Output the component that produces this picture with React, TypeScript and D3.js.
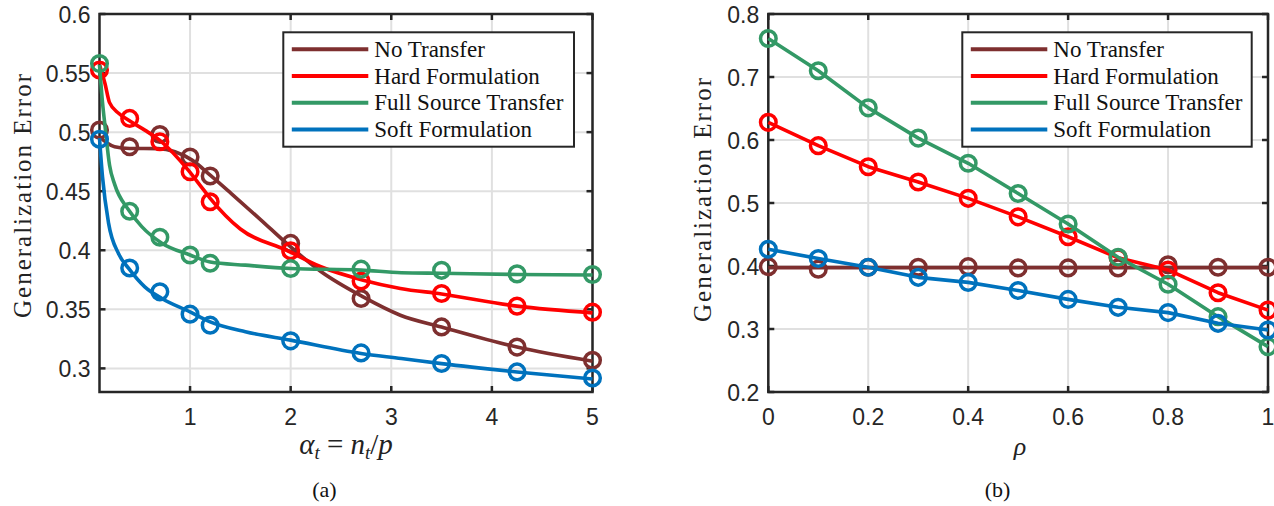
import React from "react";
import * as d3 from "d3";

// ---------- Panel (a) data ----------
const alphaMarkers = [0.1, 0.4, 0.7, 1.0, 1.2, 2.0, 2.7, 3.5, 4.25, 5.0];
const noTransferA = [0.5017, 0.4876, 0.498, 0.479, 0.4628, 0.4058, 0.3592, 0.3351, 0.318, 0.3069];
const hardA = [0.5526, 0.5116, 0.4918, 0.4664, 0.441, 0.3995, 0.374, 0.3634, 0.3527, 0.3476];
const fullA = [0.558, 0.433, 0.411, 0.396, 0.389, 0.3846, 0.384, 0.383, 0.38, 0.3795];
const softA = [0.4939, 0.385, 0.3648, 0.3459, 0.3366, 0.3233, 0.3131, 0.3041, 0.297, 0.2919];

const noTransferCurveX = [0.1, 0.25, 0.4, 0.68, 0.85, 1.02, 1.2, 1.41, 1.7, 1.96, 2.3, 2.72, 3.09, 3.5, 4.25, 5];
const noTransferCurveY = [0.496, 0.4876, 0.4862, 0.486, 0.4834, 0.4763, 0.4636, 0.448, 0.426, 0.4058, 0.382, 0.3605, 0.345, 0.335, 0.318, 0.306];
const hardCurveX = [0.1, 0.155, 0.2, 0.29, 0.39, 0.55, 0.7, 0.98, 1.1, 1.2, 1.5, 1.96, 2.3, 2.72, 3.09, 3.5, 4.25, 5];
const hardCurveY = [0.557, 0.541, 0.525, 0.516, 0.51, 0.5017, 0.493, 0.468, 0.455, 0.444, 0.418, 0.4, 0.386, 0.3747, 0.3677, 0.363, 0.3527, 0.347];
const fullCurveX = [0.1, 0.13, 0.155, 0.2, 0.25, 0.39, 0.52, 0.72, 1.0, 1.2, 1.55, 2.0, 2.7, 3.1, 3.5, 4.25, 5];
const fullCurveY = [0.557, 0.525, 0.505, 0.472, 0.456, 0.434, 0.42, 0.406, 0.396, 0.39, 0.3874, 0.3846, 0.3832, 0.381, 0.3805, 0.3795, 0.379];
const softCurveX = [0.1, 0.13, 0.19, 0.29, 0.39, 0.55, 0.72, 1.0, 1.2, 1.55, 2.0, 2.7, 3.1, 3.5, 4.25, 5];
const softCurveY = [0.495, 0.462, 0.423, 0.397, 0.3846, 0.369, 0.3592, 0.3478, 0.3394, 0.331, 0.3239, 0.3126, 0.3084, 0.304, 0.297, 0.291];

const xTicksA = [1, 2, 3, 4, 5];
const yTicksA = [0.3, 0.35, 0.4, 0.45, 0.5, 0.55, 0.6];

// ---------- Panel (b) data ----------
const rho = [0, 0.1, 0.2, 0.3, 0.4, 0.5, 0.6, 0.7, 0.8, 0.9, 1.0];
const noTransferB = [0.399, 0.395, 0.398, 0.398, 0.399, 0.397, 0.397, 0.397, 0.402, 0.398, 0.398];
const noTransferLineB = [0.3975, 0.3975, 0.3975, 0.3975, 0.3975, 0.3975, 0.3975, 0.3975, 0.3975, 0.3975, 0.3975];
const hardB = [0.628, 0.591, 0.5576, 0.5333, 0.5074, 0.478, 0.4465, 0.413, 0.3937, 0.3576, 0.33];
const fullB = [0.761, 0.71, 0.651, 0.603, 0.563, 0.515, 0.4667, 0.4138, 0.371, 0.3196, 0.272];
const softB = [0.4265, 0.412, 0.398, 0.382, 0.374, 0.361, 0.347, 0.3344, 0.326, 0.309, 0.2984];

const xTicksB = [0, 0.2, 0.4, 0.6, 0.8, 1];
const yTicksB = [0.2, 0.3, 0.4, 0.5, 0.6, 0.7, 0.8];

const seriesNames = ["No Transfer", "Hard Formulation", "Full Source Transfer", "Soft Formulation"];
const seriesColors = ["#7E2F2F", "#FF0000", "#339966", "#0072BD"];

const AXIS = "#262626";
const GRID = "#e0e0e0";
const SANS = "'Liberation Sans', Arial, Helvetica, sans-serif";
const SERIF = "'Liberation Serif', 'Times New Roman', serif";

type Curve = { xs: number[]; ys: number[] };

function Panel(props: {
  left: number; right: number; top: number; bottom: number;
  xDomain: [number, number]; yDomain: [number, number];
  xTicks: number[]; yTicks: number[];
  xFmt: (v: number) => string; yFmt: (v: number) => string;
  curves: Curve[]; markers: Curve[]; smooth: boolean;
  legend: { x0: number; x1: number; y0: number; y1: number };
}) {
  const { left, right, top, bottom, curves, markers, legend } = props;
  const x = d3.scaleLinear().domain(props.xDomain).range([left, right]);
  const y = d3.scaleLinear().domain(props.yDomain).range([bottom, top]);
  const tickLen = 6;
  return (
    <g>
      {props.xTicks.map((t) => (
        <line key={"gx" + t} x1={x(t)} x2={x(t)} y1={top} y2={bottom} stroke={GRID} strokeWidth={2} />
      ))}
      {props.yTicks.map((t) => (
        <line key={"gy" + t} x1={left} x2={right} y1={y(t)} y2={y(t)} stroke={GRID} strokeWidth={2} />
      ))}
      <rect x={left} y={top} width={right - left} height={bottom - top} fill="none" stroke={AXIS} strokeWidth={2.5} />
      {props.xTicks.map((t) => (
        <g key={"tx" + t}>
          <line x1={x(t)} x2={x(t)} y1={bottom} y2={bottom - tickLen} stroke={AXIS} strokeWidth={2.5} />
          <line x1={x(t)} x2={x(t)} y1={top} y2={top + tickLen} stroke={AXIS} strokeWidth={2.5} />
          <text x={x(t)} y={bottom + 33} textAnchor="middle" fontFamily={SANS} fontSize={23} fill={AXIS}>
            {props.xFmt(t)}
          </text>
        </g>
      ))}
      {props.yTicks.map((t) => (
        <g key={"ty" + t}>
          <line x1={left} x2={left + tickLen} y1={y(t)} y2={y(t)} stroke={AXIS} strokeWidth={2.5} />
          <line x1={right} x2={right - tickLen} y1={y(t)} y2={y(t)} stroke={AXIS} strokeWidth={2.5} />
          <text x={left - 9} y={y(t) + 8.5} textAnchor="end" fontFamily={SANS} fontSize={23} fill={AXIS}>
            {props.yFmt(t)}
          </text>
        </g>
      ))}
      {curves.map((c, i) => {
        const pts = c.xs.map((v, k) => [x(v), y(c.ys[k])] as [number, number]);
        const gen = d3.line().curve(props.smooth ? d3.curveMonotoneX : d3.curveLinear);
        const m = markers[i];
        return (
          <g key={"s" + i}>
            <path d={gen(pts) || ""} fill="none" stroke={seriesColors[i]} strokeWidth={3.6} strokeLinejoin="round" />
            {m.xs.map((v, k) => (
              <circle key={k} cx={x(v)} cy={y(m.ys[k])} r={7.8} fill="none" stroke={seriesColors[i]} strokeWidth={3.5} />
            ))}
          </g>
        );
      })}
      <rect x={legend.x0} y={legend.y0} width={legend.x1 - legend.x0} height={legend.y1 - legend.y0} fill="#fff" stroke={AXIS} strokeWidth={2} />
      {seriesNames.map((n, i) => {
        const ly = legend.y0 + 17 + i * 26.7;
        return (
          <g key={"l" + i}>
            <line x1={legend.x0 + 8.5} x2={legend.x0 + 85} y1={ly} y2={ly} stroke={seriesColors[i]} strokeWidth={4} />
            <text x={legend.x0 + 91} y={ly + 7.5} fontFamily={SERIF} fontSize={23} fill="#111">
              {n}
            </text>
          </g>
        );
      })}
    </g>
  );
}

export default function App() {
  const fmt2 = (v: number) => d3.format("~g")(v);
  return (
    <svg width={1274} height={506} style={{ position: "absolute", left: 0, top: 0, background: "#fff" }}>
      <rect x={0} y={0} width={1274} height={506} fill="#fff" />
      <Panel
        left={99.5} right={592.5} top={14} bottom={392}
        xDomain={[0.1, 5]} yDomain={[0.28, 0.6]}
        xTicks={xTicksA} yTicks={yTicksA}
        xFmt={fmt2} yFmt={fmt2}
        smooth={true}
        curves={[
          { xs: noTransferCurveX, ys: noTransferCurveY },
          { xs: hardCurveX, ys: hardCurveY },
          { xs: fullCurveX, ys: fullCurveY },
          { xs: softCurveX, ys: softCurveY },
        ]}
        markers={[
          { xs: alphaMarkers, ys: noTransferA },
          { xs: alphaMarkers, ys: hardA },
          { xs: alphaMarkers, ys: fullA },
          { xs: alphaMarkers, ys: softA },
        ]}
        legend={{ x0: 283.3, x1: 574, y0: 32.3, y1: 146.7 }}
      />
      <Panel
        left={768.3} right={1268} top={14} bottom={392}
        xDomain={[0, 1]} yDomain={[0.2, 0.8]}
        xTicks={xTicksB} yTicks={yTicksB}
        xFmt={fmt2} yFmt={(v) => d3.format(".1f")(v)}
        smooth={false}
        curves={[
          { xs: rho, ys: noTransferLineB },
          { xs: rho, ys: hardB },
          { xs: rho, ys: fullB },
          { xs: rho, ys: softB },
        ]}
        markers={[
          { xs: rho, ys: noTransferB },
          { xs: rho, ys: hardB },
          { xs: rho, ys: fullB },
          { xs: rho, ys: softB },
        ]}
        legend={{ x0: 962.3, x1: 1251.7, y0: 32.3, y1: 146.7 }}
      />
      <text transform="translate(31,196) rotate(-90)" textAnchor="middle" fontFamily={SERIF} fontSize={25} textLength={244} lengthAdjust="spacing" fill="#222">
        Generalization Error
      </text>
      <text transform="translate(711,200) rotate(-90)" textAnchor="middle" fontFamily={SERIF} fontSize={25} textLength={244} lengthAdjust="spacing" fill="#222">
        Generalization Error
      </text>
      <text x={346} y={454} textAnchor="middle" fontFamily={SERIF} fontSize={29} fill="#222">
        <tspan fontStyle="italic">α</tspan>
        <tspan fontStyle="italic" fontSize={19} dy={5}>t</tspan>
        <tspan dy={-5}> = </tspan>
        <tspan fontStyle="italic">n</tspan>
        <tspan fontStyle="italic" fontSize={19} dy={5}>t</tspan>
        <tspan dy={-5}>/</tspan>
        <tspan fontStyle="italic">p</tspan>
      </text>
      <text x={1020} y={455} textAnchor="middle" fontFamily={SERIF} fontSize={26} fontStyle="italic" fill="#222">
        ρ
      </text>
      <text x={324.5} y={497} textAnchor="middle" fontFamily={SERIF} fontSize={22} fill="#111">(a)</text>
      <text x={997.5} y={497} textAnchor="middle" fontFamily={SERIF} fontSize={22} fill="#111">(b)</text>
    </svg>
  );
}
